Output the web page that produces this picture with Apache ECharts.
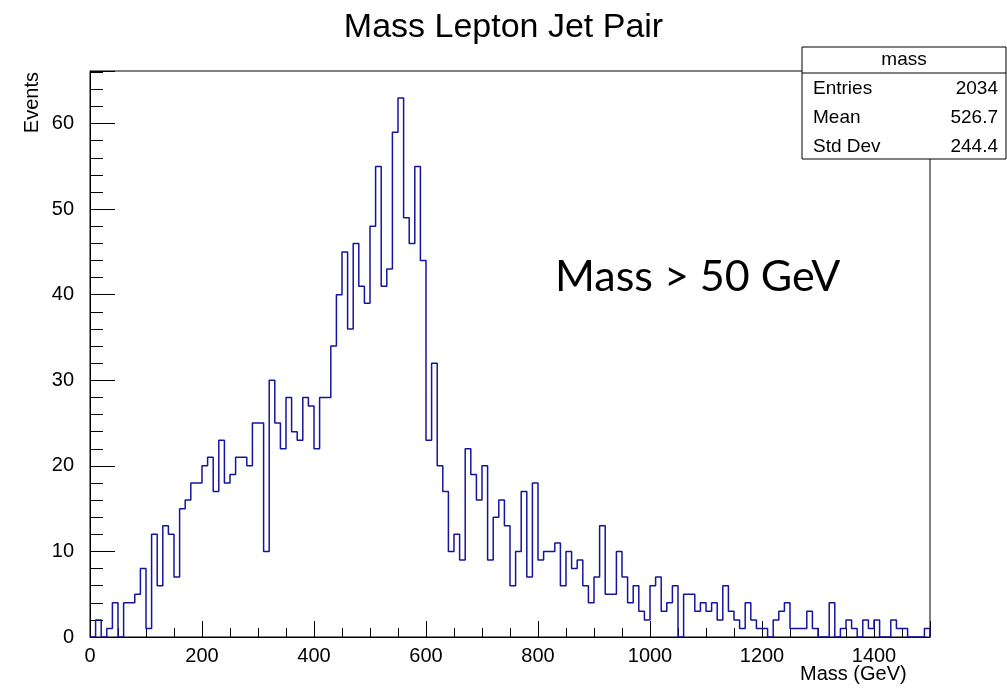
<!DOCTYPE html>
<html><head><meta charset="utf-8">
<script src="https://cdn.jsdelivr.net/npm/echarts/dist/echarts.min.js"></script>
<style>html,body{margin:0;padding:0;background:#fff}#c{width:1007px;height:690px}</style>
</head><body><div id="c"></div>
<script>
// Histogram "mass": 150 bins of 10 GeV from 0 to 1500
const binWidth = 10;
const xMin = 0;
const xMax = 1500;
const yMax = 66.15;
const counts = [
  0,2,0,1,4,0,4,4,5,8,
  1,12,6,13,12,7,15,16,18,18,
  20,21,17,23,18,19,21,21,20,25,
  25,10,30,25,22,28,24,23,28,27,
  22,28,28,34,40,45,36,46,41,39,
  48,55,41,43,59,63,49,46,55,44,
  23,32,20,17,10,12,9,22,19,16,
  20,9,14,16,13,6,10,17,7,18,
  9,10,10,11,6,10,8,9,6,4,
  7,13,5,5,10,7,4,6,3,2,
  6,7,3,4,6,0,5,5,3,4,
  3,4,2,6,3,2,1,4,2,1,
  1,0,2,3,4,1,1,1,3,1,
  0,0,4,0,1,2,1,0,2,1,
  2,0,0,2,1,1,0,0,0,1
];
const titleText = 'Mass Lepton Jet Pair';
const xTitle = 'Mass (GeV)';
const yTitle = 'Events';
const statsName = 'mass';
const statsLabels = ['Entries', 'Mean', 'Std Dev'];
const statsValues = ['2034', '526.7', '244.4'];
const noteText = 'Mass > 50 GeV';

// build step outline points from bin edges
const pts = [[xMin, 0]];
counts.forEach((c, i) => pts.push([xMin + i * binWidth, c]));
pts.push([xMax, counts[counts.length - 1]]);
pts.push([xMax, 0]);

const F = 'Liberation Sans, Arial, Helvetica, sans-serif';
const chart = echarts.init(document.getElementById('c'), null, {renderer: 'canvas'});

const gridL = 90, gridR = 930, gridT = 71, gridB = 637;
const statsRows = statsLabels.map((lab, i) => [
  {type: 'text', left: 813, top: 90 + i * 29 - 11, z: 20,
   style: {text: lab, font: '19px ' + F, fill: '#000'}},
  {type: 'text', right: 9, top: 90 + i * 29 - 11, z: 20,
   style: {text: statsValues[i], font: '19px ' + F, fill: '#000', textAlign: 'right'}}
]).flat();

chart.setOption({
  animation: false,
  backgroundColor: '#fff',
  title: {text: titleText, left: 'center', top: 6,
    textStyle: {fontFamily: F, fontSize: 34, fontWeight: 'normal', color: '#000'}},
  grid: {left: gridL, right: 1007 - gridR, top: gridT, bottom: 690 - gridB,
    show: true, borderColor: '#000', borderWidth: 1, backgroundColor: 'transparent'},
  xAxis: [
    {type: 'value', min: xMin, max: xMax, interval: 50, position: 'bottom',
     axisLine: {show: true, lineStyle: {color: '#000', width: 1}},
     axisTick: {show: true, inside: true, length: 9, lineStyle: {color: '#000'}},
     splitLine: {show: false},
     axisLabel: {interval: 0, hideOverlap: false, margin: 9, fontFamily: F, fontSize: 20, color: '#000',
       formatter: v => (Math.abs(v % 200) < 1e-6 ? String(Math.round(v)) : '')}},
    {type: 'value', min: xMin, max: xMax, interval: 200, position: 'bottom',
     axisLine: {show: false},
     axisTick: {show: true, inside: true, length: 16, lineStyle: {color: '#000'}},
     splitLine: {show: false}, axisLabel: {show: false}}
  ],
  yAxis: [
    {type: 'value', min: 0, max: yMax, interval: 2, position: 'left',
     axisLine: {show: true, lineStyle: {color: '#000', width: 1}},
     axisTick: {show: true, inside: true, length: 13, lineStyle: {color: '#000'}},
     splitLine: {show: false},
     axisLabel: {interval: 0, hideOverlap: false, margin: 16, fontFamily: F, fontSize: 20, color: '#000',
       formatter: v => (Math.abs(v % 10) < 1e-6 ? String(Math.round(v)) : '')}},
    {type: 'value', min: 0, max: yMax, interval: 10, position: 'left',
     axisLine: {show: false},
     axisTick: {show: true, inside: true, length: 25, lineStyle: {color: '#000'}},
     splitLine: {show: false}, axisLabel: {show: false}}
  ],
  series: [{
    type: 'line', xAxisIndex: 0, yAxisIndex: 0, step: 'end', data: pts,
    showSymbol: false, symbol: 'none', clip: true,
    lineStyle: {color: '#14149e', width: 1.5}, z: 5
  }],
  graphic: [
    {type: 'text', left: gridR - 130, top: 664,
     style: {text: xTitle, font: '20px ' + F, fill: '#000'}},
    {type: 'text', x: 22, y: 72, rotation: Math.PI / 2,
     style: {text: yTitle, font: '20px ' + F, fill: '#000', textAlign: 'right', textVerticalAlign: 'top'}},
    {type: 'rect', shape: {x: 802, y: 47, width: 204, height: 112}, z: 10,
     style: {fill: '#fff', stroke: '#000', lineWidth: 1}},
    {type: 'line', shape: {x1: 802, y1: 73, x2: 1006, y2: 73}, z: 11,
     style: {stroke: '#000', lineWidth: 1}},
    {type: 'text', x: 904, y: 60, z: 20,
     style: {text: statsName, font: '19px ' + F, fill: '#000', textAlign: 'center', textVerticalAlign: 'middle'}},
    ...statsRows,
    {type: 'text', x: 555, y: 277, z: 20,
     style: {text: noteText, font: '43px Lato, sans-serif', fill: '#000', textVerticalAlign: 'middle'}}
  ]
});
</script></body></html>
